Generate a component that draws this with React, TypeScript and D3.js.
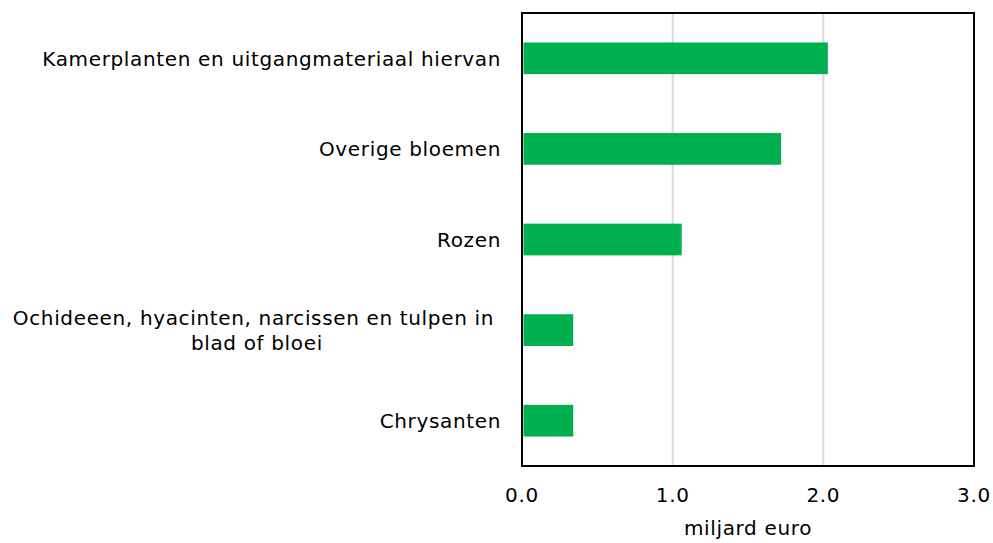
import React, { useEffect, useRef } from "react";
import * as d3 from "d3";

const categories: string[][] = [
  ["Kamerplanten en uitgangmateriaal hiervan"],
  ["Overige bloemen"],
  ["Rozen"],
  ["Ochideeen, hyacinten, narcissen en tulpen in ", "blad of bloei"],
  ["Chrysanten"],
];
const values: number[] = [2.03, 1.72, 1.06, 0.34, 0.34];
const ticks: number[] = [0, 1, 2, 3];
const axisTitle = "miljard euro";

const W = 993, H = 543;
const M = { left: 522, right: 974, top: 13, bottom: 466 };
const FONT = "DejaVu Sans, Verdana, sans-serif";
const FS = 20;
const LS = 0.65;

export default function App() {
  const ref = useRef<SVGSVGElement>(null);
  useEffect(() => {
    const svg = d3.select(ref.current);
    svg.selectAll("*").remove();
    const x = d3.scaleLinear().domain([0, 3]).range([M.left, M.right]);
    const y = d3.scaleBand<number>().domain(d3.range(categories.length)).range([M.top, M.bottom]).paddingInner(0.65).paddingOuter(0.325);

    svg.append("g").selectAll("line").data(ticks.slice(1, -1)).join("line")
      .attr("x1", (d) => x(d)).attr("x2", (d) => x(d))
      .attr("y1", M.top).attr("y2", M.bottom)
      .attr("stroke", "#d9d9d9").attr("stroke-width", 2);

    svg.append("g").selectAll("rect").data(values).join("rect")
      .attr("x", x(0) + 1.5)
      .attr("y", (_, i) => y(i)!)
      .attr("width", (d) => x(d) - x(0) - 1.5)
      .attr("height", y.bandwidth())
      .attr("fill", "#00b050");

    svg.append("rect").attr("x", M.left).attr("y", M.top)
      .attr("width", M.right - M.left).attr("height", M.bottom - M.top)
      .attr("fill", "none").attr("stroke", "#000").attr("stroke-width", 2);

    svg.append("g").selectAll("text").data(ticks).join("text")
      .attr("x", (d) => x(d)).attr("y", 502)
      .attr("text-anchor", "middle").attr("font-family", FONT).attr("font-size", FS)
      .attr("letter-spacing", LS)
      .attr("fill", "#000").text((d) => d3.format(".1f")(d));

    svg.append("text").attr("x", (M.left + M.right) / 2).attr("y", 535)
      .attr("text-anchor", "middle").attr("font-family", FONT).attr("font-size", FS)
      .attr("letter-spacing", LS)
      .attr("fill", "#000").text(axisTitle);

    const labelRight = 501;
    const lineH = 25;
    categories.forEach((lines, i) => {
      const cy = y(i)! + y.bandwidth() / 2;
      const g = svg.append("g");
      const texts = lines.map((ln, j) =>
        g.append("text")
          .attr("y", cy + (j - (lines.length - 1) / 2) * lineH + FS * 0.36)
          .attr("font-family", FONT).attr("font-size", FS).attr("fill", "#000")
          .attr("letter-spacing", LS)
          .attr("xml:space", "preserve").style("white-space", "pre")
          .text(ln)
      );
      if (lines.length === 1) {
        texts[0].attr("x", labelRight).attr("text-anchor", "end");
      } else {
        const maxW = d3.max(texts, (t) => (t.node() as SVGTextElement).getComputedTextLength()) || 0;
        const cx = labelRight - maxW / 2;
        texts.forEach((t) => t.attr("x", cx).attr("text-anchor", "middle"));
      }
    });
  }, []);
  return <svg ref={ref} width={W} height={H} style={{ display: "block", position: "absolute", left: 0, top: 0 }} />;
}
